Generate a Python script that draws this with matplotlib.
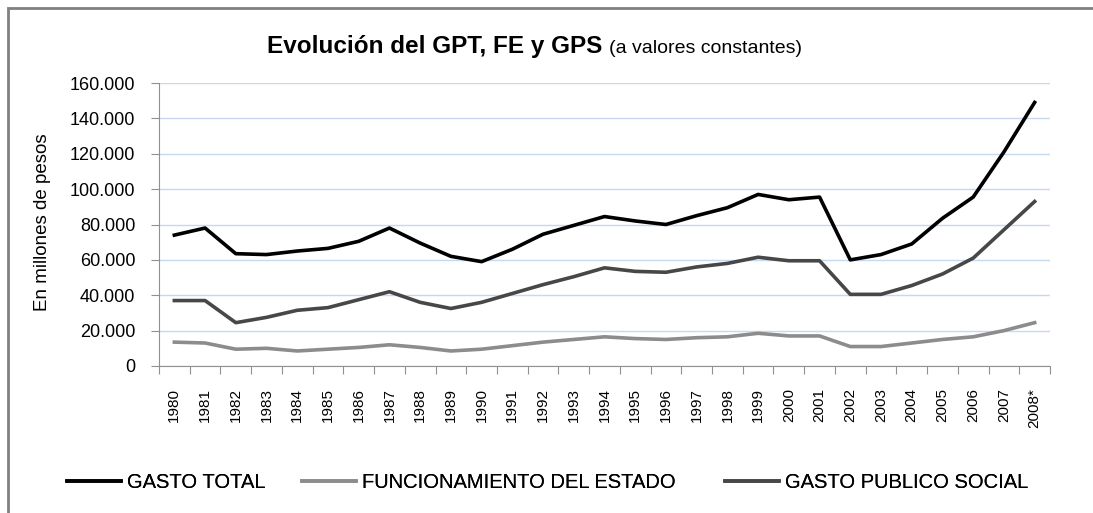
import matplotlib.pyplot as plt
from matplotlib.patches import Rectangle
from matplotlib.ticker import FuncFormatter

years = ["1980", "1981", "1982", "1983", "1984", "1985", "1986", "1987", "1988",
         "1989", "1990", "1991", "1992", "1993", "1994", "1995", "1996", "1997",
         "1998", "1999", "2000", "2001", "2002", "2003", "2004", "2005", "2006",
         "2007", "2008*"]

gasto_total = [74000, 78000, 63500, 63000, 65000, 66500, 70500, 78000, 69500,
               62000, 59000, 66000, 74500, 79500, 84500, 82000, 80000, 85000,
               89500, 97000, 94000, 95500, 60000, 63000, 69000, 83500, 95500,
               121000, 149000]
funcionamiento = [13500, 13000, 9500, 10000, 8500, 9500, 10500, 12000, 10500,
                  8500, 9500, 11500, 13500, 15000, 16500, 15500, 15000, 16000,
                  16500, 18500, 17000, 17000, 11000, 11000, 13000, 15000, 16500,
                  20000, 24500]
gasto_social = [37000, 37000, 24500, 27500, 31500, 33000, 37500, 42000, 36000,
                32500, 36000, 41000, 46000, 50500, 55500, 53500, 53000, 56000,
                58000, 61500, 59500, 59500, 40500, 40500, 45500, 52000, 61000,
                77000, 93000]

plt.rcParams["font.family"] = ["Liberation Sans", "DejaVu Sans"]

W, H = 1093, 513
fig = plt.figure(figsize=(W / 100, H / 100), dpi=100)
ax = fig.add_axes([159 / W, 1 - 366 / H, 891 / W, 283 / H])

# outer chart border (only top and left are visible in the original)
fig.patches.append(Rectangle((8 / W, -0.05), 1.1, 1 - 8 / H + 0.05,
                             transform=fig.transFigure, fill=False,
                             edgecolor="#808080", linewidth=2))

x = list(range(len(years)))
l1, = ax.plot(x, gasto_total, color="black", lw=2.6)
l2, = ax.plot(x, funcionamiento, color="#8c8c8c", lw=2.6)
l3, = ax.plot(x, gasto_social, color="#474747", lw=2.6)

ax.set_xlim(-0.5, len(years) - 0.5)
ax.set_ylim(0, 160000)
ax.set_yticks(range(0, 160001, 20000))
ax.yaxis.set_major_formatter(FuncFormatter(lambda v, p: f"{int(v):,}".replace(",", ".")))
ax.grid(axis="y", color="#c6d9f0", lw=1)
ax.set_axisbelow(True)

ax.set_xticks([i - 0.5 for i in range(len(years) + 1)])
ax.set_xticklabels([])
ax.set_xticks(x, minor=True)
ax.set_xticklabels(years, minor=True, rotation=90, fontsize=11)
ax.tick_params(axis="x", which="minor", length=0, pad=16)
ax.tick_params(axis="x", which="major", length=6, color="#909090")
ax.tick_params(axis="y", length=6, color="#909090", labelsize=13, pad=11)

for side in ["top", "right"]:
    ax.spines[side].set_visible(False)
for side in ["left", "bottom"]:
    ax.spines[side].set_color("#909090")

fig.text(43 / W, 1 - 222 / H, "En millones de pesos", rotation=90,
         ha="center", va="center", fontsize=13.5)

fig.text(602 / W, 1 - 53 / H, "Evolución del GPT, FE y GPS", ha="right",
         va="baseline", fontsize=17.5, fontweight="bold")
fig.text(609 / W, 1 - 53 / H, "(a valores constantes)", ha="left",
         va="baseline", fontsize=14)

# legend entries placed one by one, as in the original layout
entries = [(l1, "GASTO TOTAL", 67), (l2, "FUNCIONAMIENTO DEL ESTADO", 302),
           (l3, "GASTO PUBLICO SOCIAL", 725)]
for handle, label, x0 in entries:
    leg = fig.legend([handle], [label], loc="center left",
                     bbox_to_anchor=(x0 / W, 1 - 483 / H), frameon=False,
                     borderpad=0, borderaxespad=0, handlelength=2.7,
                     handletextpad=0.3, fontsize=14.5)
    fig.add_artist(leg)

fig.savefig("out.png", dpi=100)
